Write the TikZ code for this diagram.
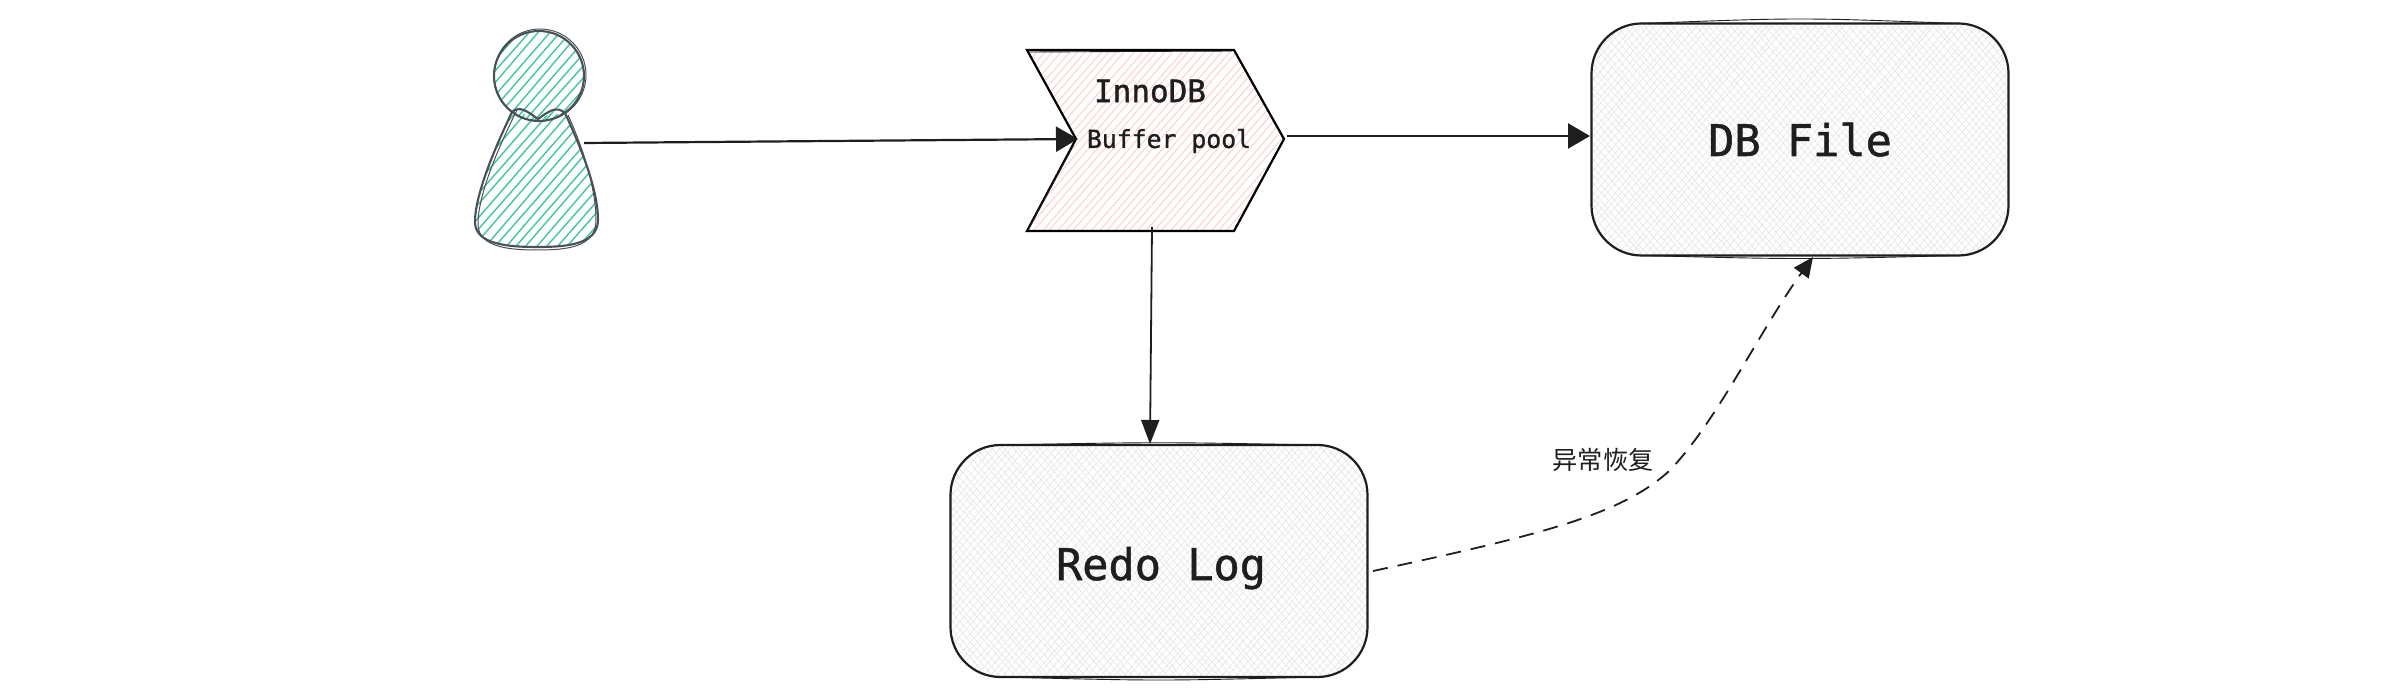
\documentclass[tikz,border=0pt]{standalone}
\usepackage{fontspec}
\setmainfont{DejaVu Sans}
\newfontfamily\monof[FakeBold=1.2]{DejaVu Sans Mono}
\newfontfamily\cjkf{Noto Sans CJK SC}
\usetikzlibrary{arrows.meta}
\definecolor{ink}{HTML}{1E1E1E}
\definecolor{personline}{HTML}{495057}
\definecolor{greenh}{HTML}{40C79F}
\definecolor{pinkh}{HTML}{FFCFCF}
\definecolor{grayh}{HTML}{E4E7EB}
% hatch: colour, line width (pt), spacing (px), direction, x0, x1, y0, y1
\newcommand\hatchlines[8]{%
  \pgfmathsetmacro\hh{#8-#7}%
  \pgfmathsetmacro\hstart{#4>0 ? #5-0.87*\hh : #5}%
  \pgfmathsetmacro\hnext{\hstart+#3}%
  \pgfmathsetmacro\hend{#4>0 ? #6 : #6+0.87*\hh}%
  \foreach \c in {\hstart,\hnext,...,\hend}{%
    \pgfmathsetmacro\ja{\c+1.5*rand}%
    \pgfmathsetmacro\jb{\c+#4*0.87*\hh+1.5*rand}%
    \draw[#1,line width=#2pt] (\ja,#8) -- (\jb,#7);
  }%
}
\tikzset{
  x=0.5pt,y=-0.5pt,
  every node/.style={inner sep=0pt,outer sep=0pt,text=ink},
  box/.style={draw=ink,line width=1.1pt,rounded corners=25pt,minimum width=208.5pt,minimum height=116pt,font=\monof\fontsize{21.8pt}{26pt}\selectfont,text depth=0pt},
  ghost/.style={minimum width=#1,minimum height=20pt},
  sketch/.style={draw=ink,line width=0.45pt},
  solidarrow/.style={draw=ink,line width=1.1pt,-{Triangle[length=11pt,width=12.5pt,fill=ink]}},
  downarrow/.style={draw=ink,line width=0.9pt,-{Triangle[length=12pt,width=9pt,fill=ink]}},
  dasharrow/.style={draw=ink,line width=0.9pt,dash pattern=on 7.5pt off 5pt,-{Triangle[length=10pt,width=9pt,fill=ink]}},
  outline/.style={draw=personline,line width=1.05pt,line join=round},
  outlinethin/.style={draw=personline,line width=0.5pt},
  chevline/.style={draw=black,line width=1.1pt,line join=miter},
  title/.style={font=\monof\fontsize{15.5pt}{18pt}\selectfont},
  small/.style={font=\monof\fontsize{12.4pt}{15pt}\selectfont},
  cjklabel/.style={font=\cjkf\fontsize{12.6pt}{15pt}\selectfont},
}
\begin{document}
\begin{tikzpicture}
\pgfmathsetseed{7}
\useasboundingbox (0,0) rectangle (2400,700);
% person hatch
\begin{scope}
\clip (539,76) circle[radius=22.5pt];
\hatchlines{greenh}{0.7}{10.5}{1}{490}{590}{28}{122}
\end{scope}
\begin{scope}
\clip (512,112) .. controls (494,150) and (475,195) .. (475,222) .. controls (475,245) and (510,247) .. (537,247) .. controls (565,247) and (598,245) .. (598,220) .. controls (598,190) and (582,150) .. (565,113) -- (538,117) -- cycle;
\hatchlines{greenh}{0.7}{10.5}{1}{470}{602}{106}{250}
\end{scope}
% chevron hatch
\begin{scope}
\clip (1027,50) -- (1234,50) -- (1284,139) -- (1234,231) -- (1027,231) -- (1076,139) -- cycle;
\hatchlines{pinkh}{0.5}{8}{1}{1025}{1286}{48}{233}
\end{scope}
% box hatch
\begin{scope}
\clip[rounded corners=25pt] (1592,23) rectangle (2008,256);
\hatchlines{grayh}{0.35}{7}{1}{1590}{2010}{20}{260}
\hatchlines{grayh}{0.35}{7}{-1}{1590}{2010}{20}{260}
\end{scope}
\begin{scope}
\clip[rounded corners=25pt] (950,445) rectangle (1368,677);
\hatchlines{grayh}{0.35}{7}{1}{948}{1370}{442}{680}
\hatchlines{grayh}{0.35}{7}{-1}{948}{1370}{442}{680}
\end{scope}
% person outline
\node[ghost=124pt,minimum height=112pt] (person) at (536,140) {};
\draw[outline] (539,76) circle[radius=22.5pt];
\draw[outlinethin] (540,75) circle[radius=23pt];
\draw[outline] (512,112) .. controls (494,150) and (475,195) .. (475,222) .. controls (475,245) and (510,247) .. (537,247) .. controls (565,247) and (598,245) .. (598,220) .. controls (598,190) and (582,150) .. (565,113);
\draw[outlinethin] (517,110) .. controls (497,150) and (477,198) .. (478,226) .. controls (480,248) and (512,250) .. (537,250) .. controls (565,250) and (596,248) .. (596,220) .. controls (596,190) and (584,150) .. (568,115);
\draw[outline] (512,112) .. controls (520,105) and (528,112) .. (538,119) .. controls (548,112) and (556,105) .. (565,113);
% chevron outline
\node[ghost=128pt,minimum height=90pt] (chev) at (1155,140) {};
\coordinate (chevnotch) at (1078,139);
\coordinate (chevtip) at (1287,136);
\coordinate (chevbottom) at (1152,227);
\draw[chevline] (1027,50) -- (1234,50) -- (1284,139) -- (1234,231) -- (1027,231) -- (1076,139) -- cycle;
\draw[sketch] (1029,228) -- (1073,146);
\draw[sketch] (1030,52) -- (1232,51);
% texts
\node[title] (inno) at (1150,91) {InnoDB};
\node[small] (pool) at (1169,141) {Buffer pool};
% boxes
\node[box,text height=16.5pt] (db) at (1800,139.5) {DB File};
\draw[sketch] ([xshift=25pt]db.north west) .. controls ([yshift=3pt]db.north) .. ([xshift=-25pt]db.north east);
\draw[sketch] ([xshift=25pt]db.south west) .. controls ([yshift=-2pt]db.south) .. ([xshift=-25pt]db.south east);
\node[box,text height=19pt] (redo) at (1159,561) {\hspace*{2pt}Redo Log};
\draw[sketch] ([xshift=25pt]redo.south west) .. controls ([yshift=-2pt]redo.south) .. ([xshift=-25pt]redo.south east);
\draw[sketch] ([xshift=25pt]redo.north west) .. controls ([yshift=1.5pt]redo.north) .. ([xshift=-25pt]redo.north east);
\node[cjklabel] (lbl) at (1603,460) {异常恢复};
% connectors
\coordinate (personhand) at (584,143);
\coordinate (dbleft) at (1590,136);
\coordinate (dbbottom) at (1813,257);
\coordinate (redotop) at (1150,444);
\coordinate (redoright) at (1373,571);
\draw[solidarrow] (personhand) -- (chevnotch);
\draw[solidarrow] (chevtip) -- (dbleft);
\draw[downarrow] (chevbottom) -- (redotop);
\draw[dasharrow] (redoright) .. controls (1540,535) and (1620,515) .. (1668,472) .. controls (1715,425) and (1760,330) .. (dbbottom);
\end{tikzpicture}
\end{document}
